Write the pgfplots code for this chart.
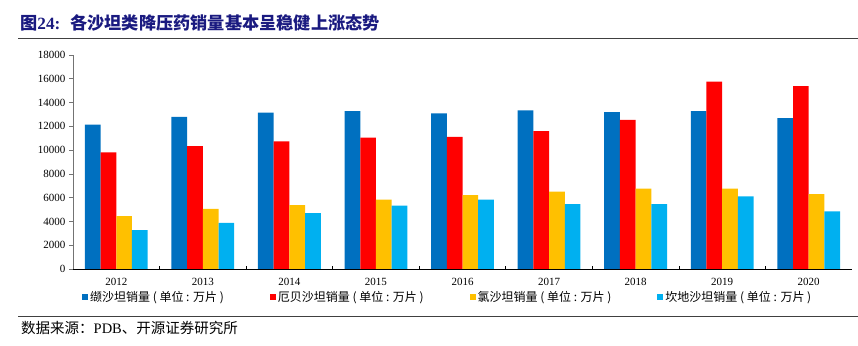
\documentclass[border=0pt]{standalone}
\usepackage{pgfplots}
\usepackage{pgfplotstable}
\pgfplotsset{compat=1.18}
\usepackage{fontspec}
\setmainfont{Liberation Serif}
\newfontfamily\cjk{Noto Sans CJK SC}
\definecolor{cblue}{HTML}{0070C0}
\definecolor{cred}{HTML}{FF0000}
\definecolor{cyel}{HTML}{FFC000}
\definecolor{ccyan}{HTML}{00B0F0}
\definecolor{navy}{RGB}{26,26,128}
\pgfplotstableread{
x  a     b     c    d
0 12150 9800 4450 3280
1 12800 10330 5050 3870
2 13150 10730 5380 4710
3 13280 11040 5830 5320
4 13080 11120 6220 5830
5 13340 11600 6500 5460
6 13200 12550 6750 5460
7 13280 15750 6750 6100
8 12680 15380 6300 4850
}\datatable
\begin{document}
\begin{tikzpicture}
\useasboundingbox (0,0) rectangle (858pt,345pt);
\node[anchor=west, inner sep=0pt, text=navy, font=\bfseries\fontsize{17.2}{19}\selectfont] at (20pt,322pt) {{\cjk 图}24:\hspace{10pt}{\cjk 各沙坦类降压药销量基本呈稳健上涨态势}};
\draw[black!75, line width=0.9pt] (18pt,307pt) -- (858pt,307pt);
\draw[black!75, line width=0.9pt] (18pt,29pt) -- (858pt,29pt);
\node[anchor=west, inner sep=0pt, font=\fontsize{14.5}{16}\selectfont] at (21pt,17pt) {{\cjk 数据来源：}PDB{\cjk 、开源证券研究所}};
\begin{axis}[
  at={(73pt,76pt)}, anchor=south west,
  scale only axis, width=779pt, height=214pt,
  ybar=0pt, bar width=15.7pt,
  xmin=-0.5, xmax=8.5, ymin=0, ymax=18000,
  xtick={0,...,8},
  xticklabels={2012,2013,2014,2015,2016,2017,2018,2019,2020},
  minor xtick={0.5,1.5,...,7.5},
  ytick={0,2000,...,18000},
  axis x line*=bottom, axis y line*=left,
  x axis line style={black, line width=0.8pt, -},
  y axis line style={black!55, line width=0.8pt, -},
  tick align=outside,
  major tick length=4pt, minor tick length=3pt,
  major x tick style={draw=none},
  minor x tick style={black, line width=0.6pt, yshift=3pt},
  y tick style={black!55, line width=0.6pt},
  /pgf/number format/assume math mode=true,
  /pgf/number format/1000 sep={},
  scaled y ticks=false,
  tick label style={font=\fontsize{11}{12}\selectfont},
  xticklabel style={yshift=-2pt},
  legend columns=4,
  legend style={at={(0.481,-0.095)}, anchor=north, draw=none, fill=none, inner sep=0pt,
    font=\cjk\fontsize{12}{13}\selectfont,
    /tikz/every even column/.append style={column sep=44pt}},
  legend image code/.code={\fill[#1] (0pt,-3pt) rectangle (6pt,3pt);},
]
\addplot[fill=cblue, draw=none] table[x=x,y=a]{\datatable};
\addplot[fill=cred, draw=none] table[x=x,y=b]{\datatable};
\addplot[fill=cyel, draw=none] table[x=x,y=c]{\datatable};
\addplot[fill=ccyan, draw=none] table[x=x,y=d]{\datatable};
\legend{缬沙坦销量 ( 单位 : 万片 ),厄贝沙坦销量 ( 单位 : 万片 ),氯沙坦销量 ( 单位 : 万片 ),坎地沙坦销量 ( 单位 : 万片 )}
\end{axis}
\end{tikzpicture}
\end{document}
